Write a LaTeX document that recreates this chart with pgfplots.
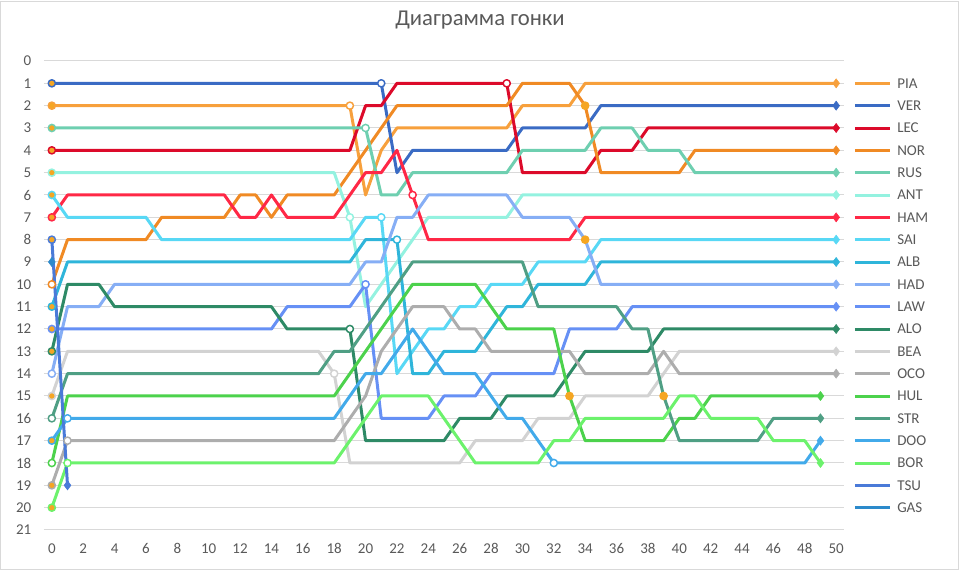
\documentclass[border=0pt]{standalone}
\usepackage{fontspec}
\setmainfont{Carlito}
\usepackage{pgfplots}
\usepackage{pgfplotstable}
\pgfplotsset{compat=1.18}

\definecolor{cPIA}{HTML}{F7A03C}
\definecolor{cVER}{HTML}{3A6BC4}
\definecolor{cLEC}{HTML}{DC0A2A}
\definecolor{cNOR}{HTML}{F08A24}
\definecolor{cRUS}{HTML}{6ECFB0}
\definecolor{cANT}{HTML}{94F2E0}
\definecolor{cHAM}{HTML}{FF2846}
\definecolor{cSAI}{HTML}{58D8F5}
\definecolor{cALB}{HTML}{2FB5DA}
\definecolor{cHAD}{HTML}{86AEF5}
\definecolor{cLAW}{HTML}{6690F5}
\definecolor{cALO}{HTML}{2E8A66}
\definecolor{cBEA}{HTML}{D2D2D2}
\definecolor{cOCO}{HTML}{ADADAD}
\definecolor{cHUL}{HTML}{4CD24C}
\definecolor{cSTR}{HTML}{4F9F84}
\definecolor{cDOO}{HTML}{42AAEA}
\definecolor{cBOR}{HTML}{6CF26C}
\definecolor{cTSU}{HTML}{4A7AD8}
\definecolor{cGAS}{HTML}{2C8ACB}
\definecolor{markor}{HTML}{F5A623}
\definecolor{tickgray}{HTML}{595959}
\definecolor{gridgray}{HTML}{D9D9D9}

% position of every driver after each lap (nan = not running)
\pgfplotstableread{
lap PIA VER LEC NOR RUS ANT HAM SAI ALB HAD LAW ALO BEA OCO HUL STR DOO BOR TSU GAS
0  2 1 4 10 3 5 7 6 11 14 12 13 15 19 18 16 17 20 8 9
1  2 1 4 8 3 5 6 7 9 11 12 10 13 17 15 14 16 18 19 nan
2  2 1 4 8 3 5 6 7 9 11 12 10 13 17 15 14 16 18 nan nan
3  2 1 4 8 3 5 6 7 9 11 12 10 13 17 15 14 16 18 nan nan
4  2 1 4 8 3 5 6 7 9 10 12 11 13 17 15 14 16 18 nan nan
5  2 1 4 8 3 5 6 7 9 10 12 11 13 17 15 14 16 18 nan nan
6  2 1 4 8 3 5 6 7 9 10 12 11 13 17 15 14 16 18 nan nan
7  2 1 4 7 3 5 6 8 9 10 12 11 13 17 15 14 16 18 nan nan
8  2 1 4 7 3 5 6 8 9 10 12 11 13 17 15 14 16 18 nan nan
9  2 1 4 7 3 5 6 8 9 10 12 11 13 17 15 14 16 18 nan nan
10 2 1 4 7 3 5 6 8 9 10 12 11 13 17 15 14 16 18 nan nan
11 2 1 4 7 3 5 6 8 9 10 12 11 13 17 15 14 16 18 nan nan
12 2 1 4 6 3 5 7 8 9 10 12 11 13 17 15 14 16 18 nan nan
13 2 1 4 6 3 5 7 8 9 10 12 11 13 17 15 14 16 18 nan nan
14 2 1 4 7 3 5 6 8 9 10 12 11 13 17 15 14 16 18 nan nan
15 2 1 4 6 3 5 7 8 9 10 11 12 13 17 15 14 16 18 nan nan
16 2 1 4 6 3 5 7 8 9 10 11 12 13 17 15 14 16 18 nan nan
17 2 1 4 6 3 5 7 8 9 10 11 12 13 17 15 14 16 18 nan nan
18 2 1 4 6 3 5 7 8 9 10 11 12 14 17 15 13 16 18 nan nan
19 2 1 4 5 3 7 6 8 9 10 11 12 18 16 14 13 15 17 nan nan
20 6 1 2 4 3 11 5 7 8 9 10 17 18 15 13 12 14 16 nan nan
21 4 1 2 3 6 10 5 7 8 9 16 17 18 13 12 11 14 15 nan nan
22 3 5 1 2 6 9 4 14 8 7 16 17 18 12 11 10 13 15 nan nan
23 3 4 1 2 5 8 6 13 14 7 16 17 18 11 10 9 12 15 nan nan
24 3 4 1 2 5 7 8 12 14 6 16 17 18 11 10 9 13 15 nan nan
25 3 4 1 2 5 7 8 12 13 6 15 17 18 11 10 9 14 16 nan nan
26 3 4 1 2 5 7 8 11 13 6 15 16 18 12 10 9 14 17 nan nan
27 3 4 1 2 5 7 8 11 13 6 15 16 17 12 10 9 14 18 nan nan
28 3 4 1 2 5 7 8 10 12 6 14 16 17 13 11 9 15 18 nan nan
29 3 4 1 2 5 7 8 10 11 6 14 15 17 13 12 9 16 18 nan nan
30 2 3 5 1 4 6 8 10 11 7 14 15 17 13 12 9 16 18 nan nan
31 2 3 5 1 4 6 8 9 10 7 14 15 16 13 12 11 17 18 nan nan
32 2 3 5 1 4 6 8 9 10 7 14 15 16 13 12 11 18 17 nan nan
33 2 3 5 1 4 6 8 9 10 7 12 14 16 13 15 11 18 17 nan nan
34 1 3 5 2 4 6 7 9 10 8 12 13 15 14 17 11 18 16 nan nan
35 1 2 4 5 3 6 7 8 9 10 12 13 15 14 17 11 18 16 nan nan
36 1 2 4 5 3 6 7 8 9 10 12 13 15 14 17 11 18 16 nan nan
37 1 2 4 5 3 6 7 8 9 10 11 13 15 14 17 12 18 16 nan nan
38 1 2 3 5 4 6 7 8 9 10 11 13 15 14 17 12 18 16 nan nan
39 1 2 3 5 4 6 7 8 9 10 11 12 14 13 17 15 18 16 nan nan
40 1 2 3 5 4 6 7 8 9 10 11 12 13 14 16 17 18 15 nan nan
41 1 2 3 4 5 6 7 8 9 10 11 12 13 14 16 17 18 15 nan nan
42 1 2 3 4 5 6 7 8 9 10 11 12 13 14 15 17 18 16 nan nan
43 1 2 3 4 5 6 7 8 9 10 11 12 13 14 15 17 18 16 nan nan
44 1 2 3 4 5 6 7 8 9 10 11 12 13 14 15 17 18 16 nan nan
45 1 2 3 4 5 6 7 8 9 10 11 12 13 14 15 17 18 16 nan nan
46 1 2 3 4 5 6 7 8 9 10 11 12 13 14 15 16 18 17 nan nan
47 1 2 3 4 5 6 7 8 9 10 11 12 13 14 15 16 18 17 nan nan
48 1 2 3 4 5 6 7 8 9 10 11 12 13 14 15 16 18 17 nan nan
49 1 2 3 4 5 6 7 8 9 10 11 12 13 14 15 16 17 18 nan nan
50 1 2 3 4 5 6 7 8 9 10 11 12 13 14 nan nan nan nan nan nan
}\race

\newcommand{\drv}[1]{\addplot[c#1, mark=none] table[x=lap,y=#1]{\race};\addlegendentry{#1}}

\begin{document}
\begin{tikzpicture}
\begin{axis}[
  scale only axis, width=600pt, height=351.75pt,
  xmin=-0.5, xmax=50.5, ymin=0, ymax=21, y dir=reverse,
  clip=false,
  xtick={0,2,...,50}, ytick={0,1,...,21},
  ymajorgrids, major grid style={gridgray, line width=0.75pt},
  axis line style={draw=none}, tick style={draw=none},
  /pgf/number format/assume math mode=true,
  tick label style={font=\fontsize{11.25}{13}\selectfont, text=tickgray},
  xticklabel style={yshift=-6.5pt},
  yticklabel style={xshift=-6pt},
  title={Диаграмма гонки},
  title style={at={(0.545,1.0704)}, anchor=center, font=\fontsize{17}{20}\selectfont, text=tickgray},
  every axis plot/.append style={line width=2.25pt, line join=round},
  pit/.style={forget plot, only marks, mark=*, mark size=2.7pt, mark options={draw=#1, fill=white, line width=1.1pt}},
  ora/.style={forget plot, only marks, mark=*, mark size=2.7pt, mark options={draw=#1, fill=markor, line width=1.1pt}},
  fin/.style={forget plot, only marks, mark=diamond*, mark size=3.4pt, mark options={draw=#1, fill=#1, line width=0.4pt, line join=miter}},
  legend cell align=left,
  legend image code/.code={\draw[#1] (0pt,0pt) -- (26.25pt,0pt);},
  legend style={draw=none, fill=none, at={(1.01125,0.96233)}, anchor=north west,
    inner xsep=0pt, inner ysep=0pt, row sep=9.75pt, column sep=4.5pt,
    font=\fontsize{11.25}{13}\selectfont, text=tickgray,
    nodes={inner sep=0pt, text height=7pt, text depth=0pt}},
]
\drv{PIA}
\drv{VER}
\drv{LEC}
\drv{NOR}
\drv{RUS}
\drv{ANT}
\drv{HAM}
\drv{SAI}
\drv{ALB}
\drv{HAD}
\drv{LAW}
\drv{ALO}
\drv{BEA}
\drv{OCO}
\drv{HUL}
\drv{STR}
\drv{DOO}
\drv{BOR}
\drv{TSU}
\drv{GAS}

% grid slots and in-race markers
\addplot[ora=cVER] coordinates {(0,1)};
\addplot[ora=cPIA] coordinates {(0,2)};
\addplot[ora=cRUS] coordinates {(0,3)};
\addplot[ora=cLEC] coordinates {(0,4)};
\addplot[ora=cANT] coordinates {(0,5)};
\addplot[ora=cSAI] coordinates {(0,6)};
\addplot[ora=cHAM] coordinates {(0,7)};
\addplot[ora=cTSU] coordinates {(0,8)};
\addplot[ora=cALB] coordinates {(0,11)};
\addplot[ora=cLAW] coordinates {(0,12)};
\addplot[ora=cALO] coordinates {(0,13)};
\addplot[ora=cBEA] coordinates {(0,15)};
\addplot[ora=cDOO] coordinates {(0,17)};
\addplot[ora=cOCO] coordinates {(0,19)};
\addplot[ora=cBOR] coordinates {(0,20)};
\addplot[ora=markor] coordinates {(34,2) (34,8) (33,15) (39,15)};

% pit stops
\addplot[pit=cNOR] coordinates {(0,10)};
\addplot[pit=cHAD] coordinates {(0,14)};
\addplot[pit=cSTR] coordinates {(0,16)};
\addplot[pit=cHUL] coordinates {(0,18)};
\addplot[pit=cDOO] coordinates {(1,16) (32,18)};
\addplot[pit=cOCO] coordinates {(1,17)};
\addplot[pit=cBOR] coordinates {(1,18)};
\addplot[pit=cBEA] coordinates {(18,14)};
\addplot[pit=cPIA] coordinates {(19,2)};
\addplot[pit=cANT] coordinates {(19,7)};
\addplot[pit=cALO] coordinates {(19,12)};
\addplot[pit=cRUS] coordinates {(20,3)};
\addplot[pit=cLAW] coordinates {(20,10)};
\addplot[pit=cVER] coordinates {(21,1)};
\addplot[pit=cSAI] coordinates {(21,7)};
\addplot[pit=cALB] coordinates {(22,8)};
\addplot[pit=cHAM] coordinates {(23,6)};
\addplot[pit=cLEC] coordinates {(29,1)};

% finishing points
\addplot[fin=cPIA] coordinates {(50,1)};
\addplot[fin=cVER] coordinates {(50,2)};
\addplot[fin=cLEC] coordinates {(50,3)};
\addplot[fin=cNOR] coordinates {(50,4)};
\addplot[fin=cRUS] coordinates {(50,5)};
\addplot[fin=cANT] coordinates {(50,6)};
\addplot[fin=cHAM] coordinates {(50,7)};
\addplot[fin=cSAI] coordinates {(50,8)};
\addplot[fin=cALB] coordinates {(50,9)};
\addplot[fin=cHAD] coordinates {(50,10)};
\addplot[fin=cLAW] coordinates {(50,11)};
\addplot[fin=cALO] coordinates {(50,12)};
\addplot[fin=cBEA] coordinates {(50,13)};
\addplot[fin=cOCO] coordinates {(50,14)};
\addplot[fin=cHUL] coordinates {(49,15)};
\addplot[fin=cSTR] coordinates {(49,16)};
\addplot[fin=cDOO] coordinates {(49,17)};
\addplot[fin=cBOR] coordinates {(49,18)};
\addplot[fin=cTSU] coordinates {(1,19)};
\addplot[fin=cGAS] coordinates {(0,9)};

% chart area frame
\path (axis description cs:-0.055,1.13006) rectangle (axis description cs:1.145,-0.08529);
\draw[gridgray, line width=0.75pt] (axis description cs:-0.05375,1.1279) rectangle (axis description cs:1.1425,-0.0832);
\end{axis}
\end{tikzpicture}
\end{document}
